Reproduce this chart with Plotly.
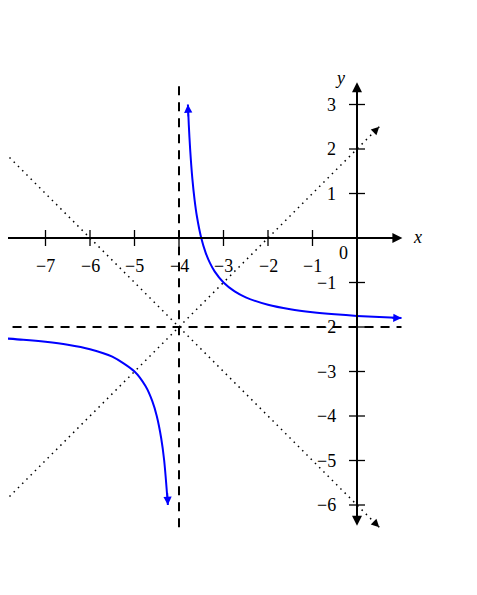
import plotly.graph_objects as go

# tick values
x_ticks = [-8, -7, -6, -5, -4, -3, -2, -1]
y_ticks = [3, 2, 1, -1, -2, -3, -4, -5, -6]

# blue curve, points (two branches)
upper_x = [-3.8, -3.78, -3.75, -3.7, -3.65, -3.6, -3.5, -3.4, -3.3, -3.2, -3.0,
           -2.75, -2.5, -2.0, -1.5, -1.0, -0.5, 0.0, 0.5, 1.0]
upper_y = [3.0, 2.545, 2.0, 1.333, 0.857, 0.5, 0.0, -0.333, -0.571, -0.75, -1.0,
           -1.2, -1.333, -1.5, -1.6, -1.667, -1.714, -1.75, -1.778, -1.8]
lower_x = [-8.1, -7.5, -7.0, -6.5, -6.0, -5.5, -5.0, -4.75, -4.6, -4.5, -4.4,
           -4.333, -4.25]
lower_y = [-2.244, -2.286, -2.333, -2.4, -2.5, -2.667, -3.0, -3.333, -3.667,
           -4.0, -4.5, -5.0, -6.0]

# dotted guide lines (ends)
diag1_x = [-8.0, 0.5]
diag1_y = [-6.0, 2.5]
diag2_x = [-8.0, 0.5]
diag2_y = [2.0, -6.5]

# asymptotes
vasym_x = [-4, -4]
vasym_y = [-6.5, 3.5]
hasym_x = [-8.1, 1.0]
hasym_y = [-2, -2]

BLUE = '#0000ff'
FONT = dict(family='"Liberation Serif", "Times New Roman", "DejaVu Serif", serif',
            size=18, color='black')

# page body has an 8px margin; shift the data window so the origin lands where it should
UNIT = 44.5
OFF = 8

fig = go.Figure()

# asymptotes
fig.add_trace(go.Scatter(x=vasym_x, y=vasym_y, mode='lines',
                         line=dict(color='black', width=2, dash='9px,7px')))
fig.add_trace(go.Scatter(x=hasym_x, y=hasym_y, mode='lines',
                         line=dict(color='black', width=2, dash='9px,7px')))

# dotted diagonals
for xs, ys in [(diag1_x, diag1_y), (diag2_x, diag2_y)]:
    fig.add_trace(go.Scatter(x=xs, y=ys, mode='lines',
                             line=dict(color='black', width=1.5, dash='1.5px,4.5px')))

# tick marks
tx, ty = [], []
for v in x_ticks:
    tx += [v, v, None]
    ty += [-0.18, 0.18, None]
for v in y_ticks:
    tx += [-0.18, 0.18, None]
    ty += [v, v, None]
fig.add_trace(go.Scatter(x=tx, y=ty, mode='lines', line=dict(color='black', width=1.3)))

# curve
fig.add_trace(go.Scatter(x=upper_x, y=upper_y, mode='lines',
                         line=dict(color=BLUE, width=2, shape='spline', smoothing=0.8)))
fig.add_trace(go.Scatter(x=lower_x, y=lower_y, mode='lines',
                         line=dict(color=BLUE, width=2, shape='spline', smoothing=0.8)))


def arrow(x, y, ax, ay, color='black', width=2, size=1.2, side='end'):
    fig.add_annotation(x=x, y=y, ax=ax, ay=ay, xref='x', yref='y',
                       axref='x', ayref='y', text='', showarrow=True,
                       arrowhead=2, startarrowhead=2, arrowside=side,
                       arrowsize=size, startarrowsize=size,
                       arrowwidth=width, arrowcolor=color, standoff=0, startstandoff=0)


# axes
arrow(1.02, 0, -7.9, 0, width=2, size=1.0)
arrow(0, 3.5, 0, -6.5, width=2, size=1.0, side='end+start')

# diagonal arrow heads
arrow(diag1_x[1], diag1_y[1], diag1_x[1] - 0.15, diag1_y[1] - 0.15, width=1, size=1.6)
arrow(diag2_x[1], diag2_y[1], diag2_x[1] - 0.15, diag2_y[1] + 0.15, width=1, size=1.6)

# curve arrow heads
arrow(upper_x[0], upper_y[0], -3.788, 2.7, color=BLUE, width=1.5, size=1.1)
arrow(upper_x[-1], upper_y[-1], 0.75, -1.79, color=BLUE, width=1.5, size=1.1)
arrow(lower_x[-1], lower_y[-1], -4.262, -5.7, color=BLUE, width=1.5, size=1.1)

# tick labels
for v in x_ticks:
    fig.add_annotation(x=v, y=-0.63, text='\u2212' + str(-v), showarrow=False,
                       xref='x', yref='y', font=FONT)
for v in y_ticks:
    lbl = str(v) if v > 0 else '\u2212' + str(-v)
    fig.add_annotation(x=-0.42, y=v, text=lbl, showarrow=False, xref='x', yref='y',
                       xanchor='right', font=FONT)
fig.add_annotation(x=-0.31, y=-0.34, text='0', showarrow=False, xref='x', yref='y', font=FONT)
fig.add_annotation(x=1.35, y=0.02, text='<i>x</i>', showarrow=False, xref='x', yref='y', font=FONT)
fig.add_annotation(x=-0.38, y=3.6, text='<i>y</i>', showarrow=False, xref='x', yref='y', font=FONT)

fig.update_layout(
    width=477, height=595,
    margin=dict(l=0, r=0, t=0, b=0),
    showlegend=False,
    plot_bgcolor='white', paper_bgcolor='white',
    xaxis=dict(range=[(OFF - 357) / UNIT, (477 + OFF - 357) / UNIT],
               visible=False, showgrid=False, zeroline=False),
    yaxis=dict(range=[-(595 + OFF - 238) / UNIT, (238 - OFF) / UNIT],
               visible=False, showgrid=False, zeroline=False),
)

fig.write_html("out.html")
